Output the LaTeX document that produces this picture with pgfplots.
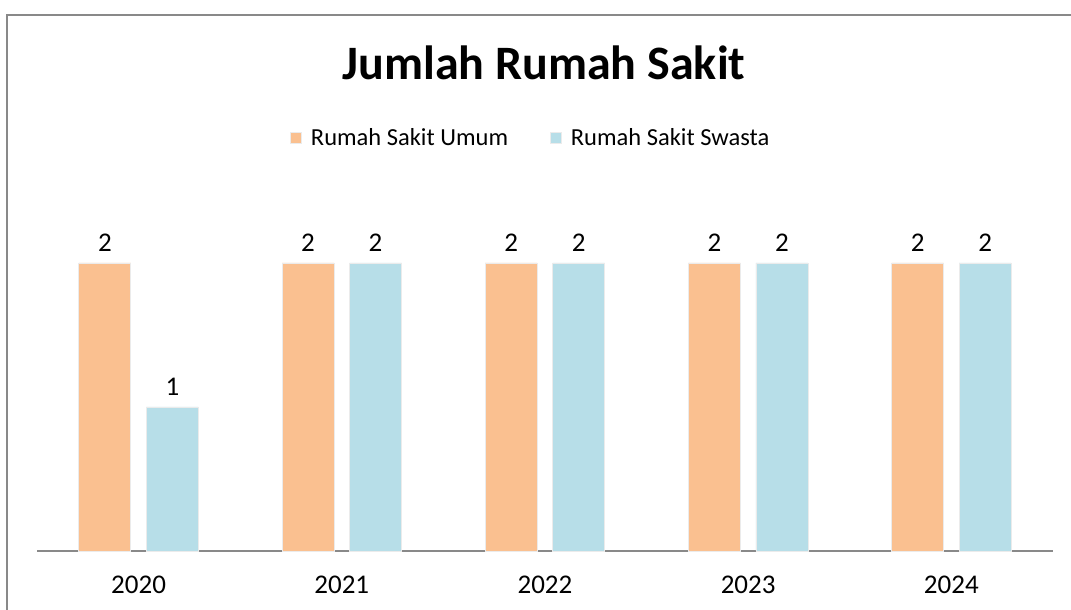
\documentclass[border=0pt]{standalone}
\usepackage{pgfplots}
\pgfplotsset{compat=1.18}
\usepackage{fontspec}
\setmainfont{Carlito}
\definecolor{cUmum}{HTML}{FAC090}
\definecolor{cSwasta}{HTML}{B7DEE8}
\definecolor{cAxis}{HTML}{898989}
\begin{document}
\begin{tikzpicture}
\useasboundingbox (-37pt,-59pt) rectangle (1034pt,551pt);
\draw[cAxis, line width=1.6pt] (-30pt,-80pt) -- (-30pt,536pt) -- (1060pt,536pt);
\begin{axis}[
  at={(0pt,0pt)}, anchor=south west,
  scale only axis, width=1016pt, height=360pt,
  xmin=-0.5, xmax=4.5, ymin=0, ymax=2.5,
  axis x line*=bottom, axis y line=none,
  x axis line style={-, cAxis, line width=1.4pt},
  xtick={0,1,2,3,4}, xticklabels={2020,2021,2022,2023,2024},
  major tick length=0pt,
  xticklabel style={font=\fontsize{27}{32}\selectfont, yshift=-25pt, inner sep=0pt},
  /pgf/number format/assume math mode=true,
  ybar,
  nodes near coords,
  nodes near coords style={font=\fontsize{27}{32}\selectfont, anchor=south, inner sep=0pt, yshift=11pt, black},
  legend columns=2,
  legend style={at={(0.485,1.147)}, anchor=center, draw=none, fill=none,
    font=\fontsize{24.5}{29}\selectfont,
    nodes={inner sep=0pt},
    /tikz/every odd column/.append style={column sep=9pt},
    /tikz/every even column/.append style={column sep=42pt}},
  legend image code/.code={\fill[#1] (0pt,-5.5pt) rectangle (11pt,5.5pt);},
  clip=false,
]
\addplot[fill=cUmum, draw=black!8, line width=0.8pt, bar width=52pt, bar shift=-33.75pt] coordinates {(0,2) (1,2) (2,2) (3,2) (4,2)};
\addplot[fill=cSwasta, draw=black!8, line width=0.8pt, bar width=52pt, bar shift=33.75pt] coordinates {(0,1) (1,2) (2,2) (3,2) (4,2)};
\legend{Rumah Sakit Umum, Rumah Sakit Swasta}
\node[font=\bfseries\fontsize{48}{56}\selectfont, anchor=base] at (axis cs:2,0) [yshift=471pt, xshift=-1pt] {Jumlah Rumah Sakit};
\end{axis}
\end{tikzpicture}
\end{document}
